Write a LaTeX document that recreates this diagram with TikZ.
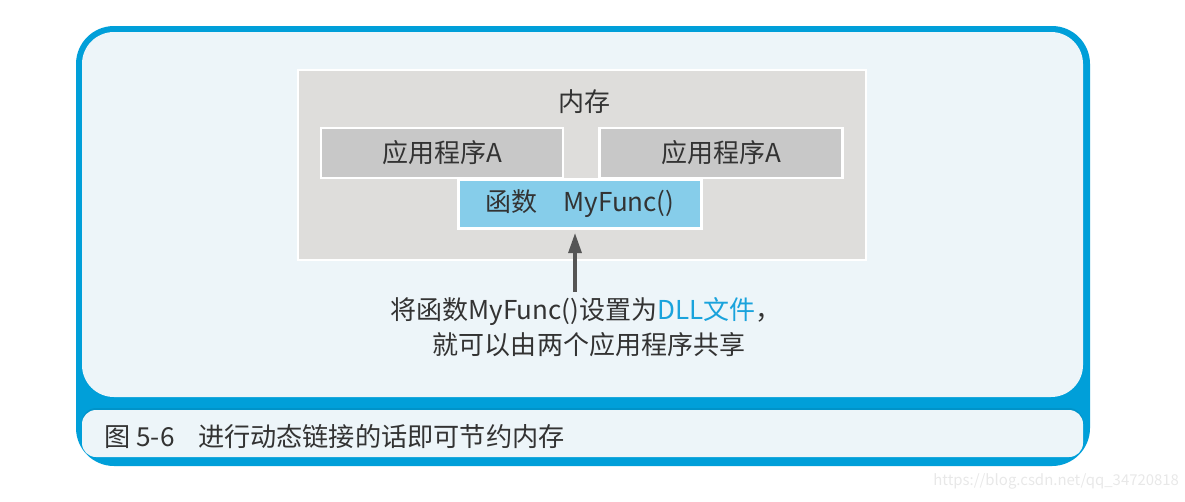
\documentclass[tikz,border=0pt]{standalone}
\usepackage{fontspec}
\setmainfont{Noto Sans CJK SC}
\usetikzlibrary{arrows.meta}
\definecolor{frameblue}{HTML}{009FD9}
\definecolor{panelfill}{HTML}{EDF5F9}
\definecolor{memgray}{HTML}{DEDDDB}
\definecolor{appgray}{HTML}{C8C8C8}
\definecolor{funcblue}{HTML}{86CDEA}
\definecolor{txt}{HTML}{333333}
\definecolor{dllblue}{HTML}{1AA3DC}
\definecolor{arrowgray}{HTML}{555555}
\tikzset{
  box/.style={draw=white, line width=1.2pt, inner sep=0pt, font=\fontsize{14.8}{17}\selectfont, text=txt},
  lbl/.style={inner sep=0pt, font=\fontsize{14.8}{17}\selectfont, text=txt},
}
\begin{document}
\begin{tikzpicture}[x=0.02cm,y=-0.02cm]
\useasboundingbox (0,0) rectangle (1185,501);
% frame
\fill[frameblue, rounded corners=38*0.02cm] (76,26) rectangle (1090,466);
\fill[panelfill, rounded corners=32*0.02cm] (82,32) rectangle (1083,397);
\fill[frameblue!80!black, opacity=0.35, rounded corners=14*0.02cm] (82,408) rectangle (1083,452);
\fill[panelfill, rounded corners=14*0.02cm] (82,410) rectangle (1083,457);
% memory
\node[box, fill=memgray, minimum width=11.36cm, minimum height=3.8cm] (mem) at (582,165) {};
\node[lbl] (memlbl) at (584,102) {内存};
\node[box, fill=appgray, minimum width=4.84cm, minimum height=1.0cm] (appL) at (442,153) {应用程序A};
\node[box, fill=appgray, minimum width=4.86cm, minimum height=1.0cm] (appR) at (721,153) {应用程序A};
\node[box, fill=funcblue, minimum width=4.86cm, minimum height=0.98cm] (func) at (580,204) {函数\hspace{1em}MyFunc()};
% note
\node[lbl, align=center] (note1) at (586,312) {将函数MyFunc()设置为{\color{dllblue}DLL文件}，};
\node[lbl] (note2) at (589,345) {就可以由两个应用程序共享};
\coordinate (tail) at (575,292);
\draw[arrowgray, line width=1.8pt, -{Triangle[length=0.4cm,width=0.26cm]}, shorten >=2pt] (tail) -- (tail |- func.south);
% caption
\node[lbl, anchor=west, font=\fontsize{14.9}{18}\selectfont] (cap) at (104,437) {图 5-6\hspace{0.9em}进行动态链接的话即可节约内存};
% watermark
\node[inner sep=0pt, anchor=west, text=black!9, font=\fontsize{8.5}{10}\selectfont] (wm) at (933,481) {https://blog.csdn.net/qq\_34720818};
\end{tikzpicture}
\end{document}
